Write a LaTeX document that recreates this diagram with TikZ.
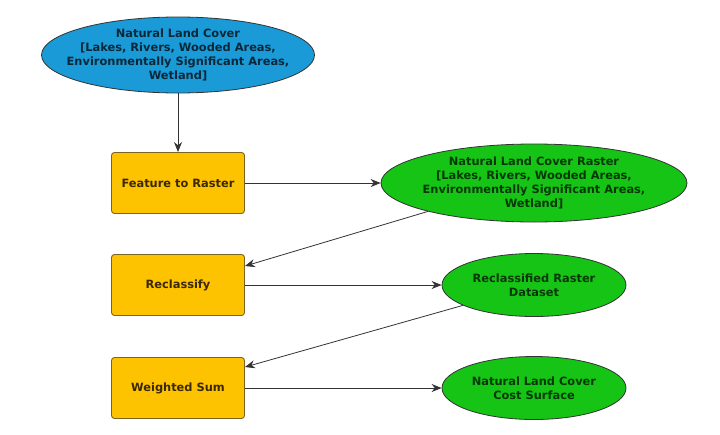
\documentclass[tikz,border=0pt]{standalone}
\usepackage{fontspec}
\setmainfont{DejaVu Sans}
\usetikzlibrary{shapes.geometric,arrows.meta}
\definecolor{bluefill}{HTML}{1A9AD6}
\definecolor{greenfill}{HTML}{16C416}
\definecolor{yellowfill}{HTML}{FDC300}
\definecolor{bluetext}{HTML}{0B2838}
\definecolor{greentext}{HTML}{063806}
\definecolor{yellowtext}{HTML}{3A2800}
\definecolor{edgegray}{HTML}{333333}
\definecolor{boxedge}{HTML}{7A6420}
\begin{document}
\begin{tikzpicture}[x=1pt,y=-1pt,
  txt/.style={font=\bfseries\fontsize{11.4}{14}\selectfont,align=center,inner sep=0pt},
  inputell/.style={ellipse,draw=black!80,line width=0.8pt,fill=bluefill,inner sep=0pt,minimum width=273pt,minimum height=76pt},
  outell/.style={ellipse,draw=black!80,line width=0.8pt,fill=greenfill,inner sep=0pt},
  toolbox/.style={rectangle,rounded corners=3pt,draw=boxedge,line width=0.9pt,fill=yellowfill,text=yellowtext,txt,minimum width=133pt,minimum height=61pt},
  conn/.style={draw=edgegray,line width=0.8pt,-{Stealth[length=10pt,width=8pt]}}]
\useasboundingbox (0,0) rectangle (720,434);
\fill[white] (0,0) rectangle (720,434);
\node[inputell] (nlc) at (178,55) {};
\node[txt,text=bluetext] (nlc-t) at (nlc.center) {Natural Land Cover\\{}[Lakes, Rivers, Wooded Areas,\\Environmentally Significant Areas,\\Wetland]};
\node[toolbox] (ftr) at (178,183) {Feature to Raster};
\node[outell,minimum width=306pt,minimum height=78pt] (nlcr) at (534,183) {};
\node[txt,text=greentext] (nlcr-t) at (nlcr.center) {Natural Land Cover Raster\\{}[Lakes, Rivers, Wooded Areas,\\Environmentally Significant Areas,\\Wetland]};
\node[toolbox] (rec) at (178,285) {Reclassify};
\node[outell,minimum width=184pt,minimum height=63pt] (rrd) at (534,285) {};
\node[txt,text=greentext] (rrd-t) at (rrd.center) {Reclassified Raster\\Dataset};
\node[toolbox] (ws) at (178,388) {Weighted Sum};
\node[outell,minimum width=184pt,minimum height=63pt] (cs) at (534,388) {};
\node[txt,text=greentext] (cs-t) at (cs.center) {Natural Land Cover\\Cost Surface};
\draw[conn] (nlc.south) -- (ftr.north);
\draw[conn] (ftr.east) -- (nlcr.west);
\draw[conn] (nlcr.195) -- ([yshift=-12pt]rec.north east);
\draw[conn] (rec.east) -- (rrd.west);
\draw[conn] (rrd.196) -- ([yshift=-10pt]ws.north east);
\draw[conn] (ws.east) -- (cs.west);
\end{tikzpicture}
\end{document}
